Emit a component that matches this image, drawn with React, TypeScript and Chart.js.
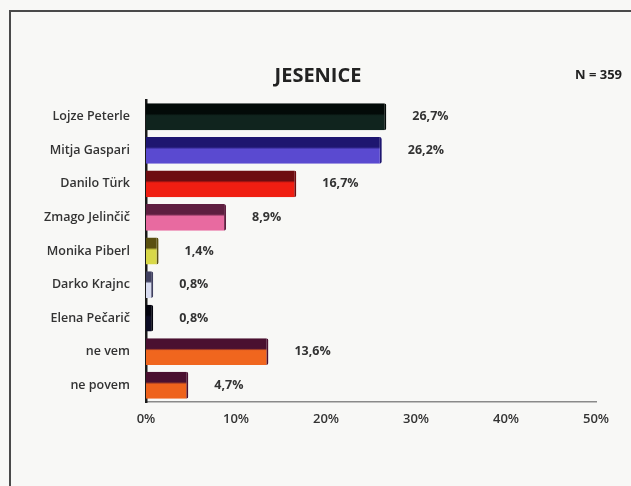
import React, { useEffect, useRef } from "react";
import { Chart, registerables } from "chart.js";

Chart.register(...registerables);

const categories = [
  "Lojze Peterle",
  "Mitja Gaspari",
  "Danilo Türk",
  "Zmago Jelinčič",
  "Monika Piberl",
  "Darko Krajnc",
  "Elena Pečarič",
  "ne vem",
  "ne povem",
];
const values = [26.7, 26.2, 16.7, 8.9, 1.4, 0.8, 0.8, 13.6, 4.7];
const mainColors = ["#10241e", "#5a4ad0", "#f01e12", "#e86aa0", "#d8d848", "#d8dcf0", "#0c0c24", "#f0661e", "#ee621c"];
const topColors = ["#030a08", "#1e1670", "#6e0c10", "#5e1e40", "#5a5010", "#404060", "#04040e", "#4a1030", "#4a1030"];
const xTicks = [0, 10, 20, 30, 40, 50];
const title = "JESENICE";
const sampleNote = "N = 359";

const FONT = "'Open Sans', sans-serif";

const framePlugin = {
  id: "frame",
  beforeDraw(chart: any) {
    const ctx = chart.ctx;
    ctx.save();
    ctx.fillStyle = "#f8f8f6";
    ctx.fillRect(0, 0, chart.width, chart.height);
    ctx.strokeStyle = "#4a4a4a";
    ctx.lineWidth = 2;
    ctx.beginPath();
    ctx.moveTo(631, 11);
    ctx.lineTo(10, 11);
    ctx.lineTo(10, 486);
    ctx.stroke();
    ctx.restore();
  },
  afterDraw(chart: any) {
    const ctx = chart.ctx;
    ctx.save();
    ctx.fillStyle = "#222";
    ctx.textBaseline = "middle";
    ctx.textAlign = "center";
    ctx.font = `bold 20px ${FONT}`;
    ctx.fillText(title, 318, 76);
    ctx.textAlign = "right";
    ctx.font = `bold 13px ${FONT}`;
    ctx.fillText(sampleNote, 622, 75);
    ctx.restore();
  },
};

const valueLabelPlugin = {
  id: "valueLabels",
  afterDatasetsDraw(chart: any) {
    const ctx = chart.ctx;
    const meta = chart.getDatasetMeta(0);
    ctx.save();
    ctx.fillStyle = "#333";
    ctx.font = `bold 12.5px ${FONT}`;
    ctx.textAlign = "left";
    ctx.textBaseline = "middle";
    meta.data.forEach((bar: any, i: number) => {
      const txt = values[i].toFixed(1).replace(".", ",") + "%";
      ctx.fillText(txt, bar.x + 26, bar.y);
    });
    ctx.restore();
  },
};

export default function App() {
  const ref = useRef<HTMLCanvasElement>(null);
  useEffect(() => {
    if (!ref.current) return;
    const chart = new Chart(ref.current, {
      type: "bar",
      data: {
        labels: categories,
        datasets: [
          {
            data: values,
            backgroundColor: (c: any) => {
              const ch = c.chart;
              const y = ch.scales?.y;
              const i = c.dataIndex;
              if (!y || i === undefined) return mainColors[i ?? 0];
              const cy = y.getPixelForValue(i);
              if (!Number.isFinite(cy)) return mainColors[i];
              const h = 27;
              const g = ch.ctx.createLinearGradient(0, cy - h / 2, 0, cy + h / 2);
              g.addColorStop(0, topColors[i]);
              g.addColorStop(0.38, topColors[i]);
              g.addColorStop(0.46, mainColors[i]);
              g.addColorStop(1, mainColors[i]);
              return g;
            },
            borderColor: topColors,
            borderWidth: { top: 0, bottom: 0, left: 0, right: 2 },
            borderSkipped: "left",
            borderRadius: { topRight: 2, bottomRight: 2, topLeft: 0, bottomLeft: 0 },
            barPercentage: 0.8,
            categoryPercentage: 1,
          },
        ],
      },
      options: {
        indexAxis: "y",
        animation: false,
        responsive: false,
        maintainAspectRatio: false,
        layout: { padding: { top: 100, right: 35, bottom: 44, left: 0 } },
        plugins: {
          legend: { display: false },
          tooltip: { enabled: false },
          title: { display: false },
        },
        scales: {
          x: {
            min: 0,
            max: 50,
            afterFit: (s: any) => {
              s.height = 40;
            },
            afterBuildTicks: (s: any) => {
              s.ticks = xTicks.map((v) => ({ value: v }));
            },
            ticks: {
              callback: (v: any) => v + "%",
              color: "#333",
              font: { family: FONT, size: 13, weight: "600" },
              padding: 9,
              maxRotation: 0,
            },
            grid: { display: false, drawTicks: false },
            border: { display: true, color: "#8a8a8a", width: 1.5 },
          },
          y: {
            afterFit: (s: any) => {
              s.width = 146;
            },
            ticks: {
              color: "#333",
              font: { family: FONT, size: 12.5, weight: "600" },
              padding: 16,
            },
            grid: { display: false, drawTicks: false },
            border: { display: true, color: "#1a1a1a", width: 2.5 },
          },
        },
      },
      plugins: [framePlugin, valueLabelPlugin],
    });
    return () => chart.destroy();
  }, []);
  return (
    <div style={{ position: "absolute", left: 0, top: 0, width: 631, height: 486 }}>
      <canvas ref={ref} width={631} height={486} style={{ display: "block" }} />
    </div>
  );
}
